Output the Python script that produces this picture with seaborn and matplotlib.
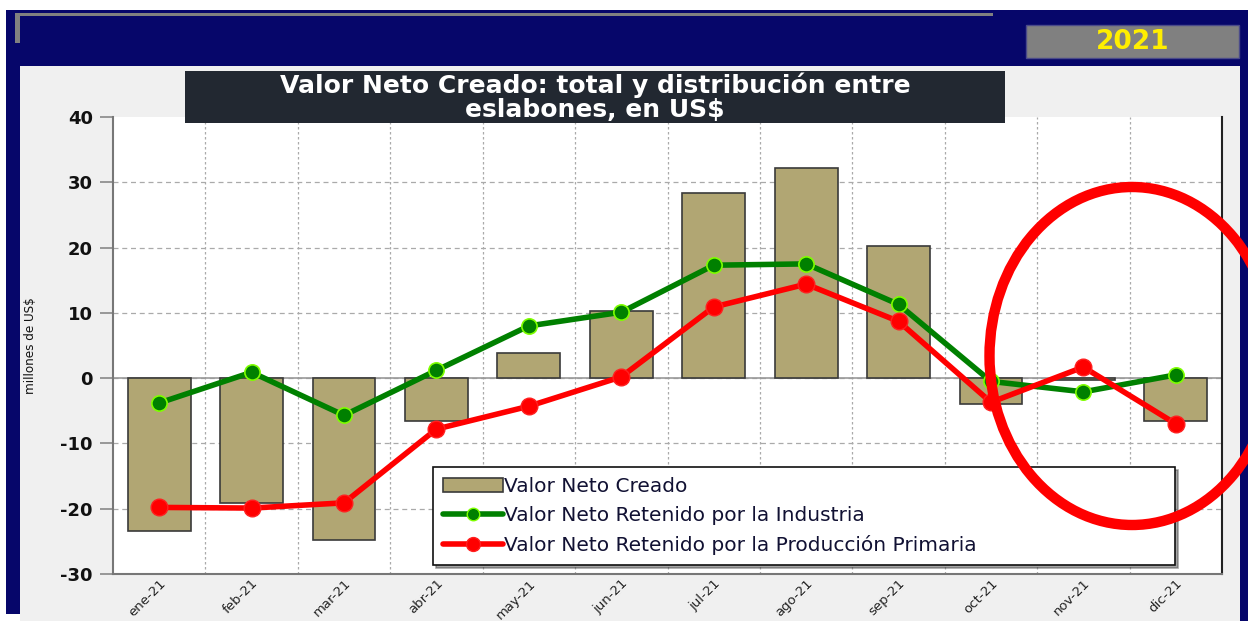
import numpy as np
import matplotlib
matplotlib.use("Agg")
import matplotlib.pyplot as plt
from matplotlib.patches import Rectangle, Ellipse
from matplotlib.lines import Line2D
import seaborn as sns

months = ["ene-21", "feb-21", "mar-21", "abr-21", "may-21", "jun-21",
          "jul-21", "ago-21", "sep-21", "oct-21", "nov-21", "dic-21"]
valor_creado = [-23.4, -19.1, -24.8, -6.6, 3.8, 10.3, 28.3, 32.2, 20.2, -4.0, -0.3, -6.6]
retenido_industria = [-3.8, 0.9, -5.7, 1.2, 8.0, 10.1, 17.3, 17.5, 11.3, -0.5, -2.1, 0.5]
retenido_primaria = [-19.8, -19.9, -19.1, -7.8, -4.3, 0.2, 10.9, 14.4, 8.7, -3.7, 1.7, -7.0]
yticks = [-30, -20, -10, 0, 10, 20, 30, 40]

sns.set_style("white")
plt.rcParams['font.family'] = ['DejaVu Sans']

W, H = 1248, 621
fig = plt.figure(figsize=(W / 100, H / 100), dpi=100)
fig.patch.set_facecolor("white")

def px(x0, y0, x1, y1):
    return (x0 / W, 1 - y1 / H, (x1 - x0) / W, (y1 - y0) / H)

def rect(x0, y0, x1, y1, **kw):
    fig.patches.append(Rectangle((x0 / W, 1 - y1 / H), (x1 - x0) / W, (y1 - y0) / H,
                                 transform=fig.transFigure, **kw))

# Background frame
navy = "#06066a"
rect(6, 10, W, 614, facecolor=navy, edgecolor="none", zorder=-3)
rect(1240, 10, W, H, facecolor=navy, edgecolor="none", zorder=-3)
rect(20, 66, 1240, H, facecolor="#f0f0f0", edgecolor="none", zorder=-2)
rect(15, 13, 993, 16, facecolor="#808080", edgecolor="none", zorder=-1)
rect(15, 13, 20, 43, facecolor="#808080", edgecolor="none", zorder=-1)
# 2021 box
rect(1026, 25, 1239, 58, facecolor="#808080", edgecolor="#4a4a8a", linewidth=1, zorder=-1)
fig.text((1026 + 1239) / 2 / W, 1 - 42 / H, "2021", color="#ffee00", fontsize=19,
         fontweight="bold", ha="center", va="center", zorder=2)

ax = fig.add_axes(px(113, 117, 1222, 574))
ax.set_facecolor("white")
x = np.arange(len(months))

sns.barplot(x=months, y=valor_creado, ax=ax, color="#b1a673", width=0.68,
            edgecolor="#3a3a3a", linewidth=1.2, saturation=1, zorder=3)

ax.plot(x, retenido_industria, color="#008000", lw=4, marker="o", markersize=11,
        markerfacecolor="#008000", markeredgecolor="#7fff00", markeredgewidth=1.2, zorder=5)
ax.plot(x, retenido_primaria, color="#ff0000", lw=4, marker="o", markersize=12,
        markerfacecolor="#ff0000", markeredgecolor="#ff2020", markeredgewidth=1.0, zorder=6)

ax.set_xlim(-0.5, 11.5)
ax.set_ylim(-30, 40)
ax.set_yticks(yticks)
ax.set_yticklabels([str(v) for v in yticks], fontsize=13, fontweight="bold", color="#111111")
ax.set_xticks(x)
ax.set_xticklabels(months, rotation=45, ha="right", rotation_mode="anchor", fontsize=9.5, color="#222222")
ax.tick_params(axis="x", length=0, pad=2)
ax.tick_params(axis="y", length=9.5, width=1.2, color="#888888", pad=5, direction="out", left=True)

for v in yticks[1:-1]:
    ax.axhline(v, color="#aaaaaa", lw=0.9, ls=(0, (4, 3)), zorder=1)
ax.axhline(0, color="#999999", lw=1.2, zorder=2)
for b in np.arange(0.5, 11.5, 1):
    ax.axvline(b, color="#aaaaaa", lw=0.9, ls=(0, (2, 2)), zorder=1)

for s in ["left", "bottom"]:
    ax.spines[s].set_color("#777777")
    ax.spines[s].set_linewidth(1.5)
ax.spines["top"].set_visible(False)
ax.spines["right"].set_color("#222222")
ax.spines["right"].set_linewidth(1.5)

ax.set_xlabel("")
fig.text(31 / W, 1 - 346 / H, "millones de US$", rotation=90, fontsize=9.5,
         fontstretch="condensed", ha="center", va="center", color="#111111")

# Title box
rect(185, 71, 1005, 123, facecolor="#222831", edgecolor="none", zorder=7)
fig.text(595 / W, 1 - 97 / H, "Valor Neto Creado: total y distribución entre\neslabones, en US$",
         color="white", fontsize=18, fontweight="bold", ha="center", va="center",
         linespacing=1.0, zorder=8)

handles = [
    Rectangle((0, 0), 1, 1, facecolor="#b1a673", edgecolor="#3a3a3a", linewidth=1.2),
    Line2D([], [], color="#008000", lw=4, marker="o", markersize=9,
           markerfacecolor="#008000", markeredgecolor="#7fff00"),
    Line2D([], [], color="#ff0000", lw=4, marker="o", markersize=10,
           markerfacecolor="#ff0000", markeredgecolor="#ff2020"),
]
labels = ["Valor Neto Creado", "Valor Neto Retenido por la Industria",
          "Valor Neto Retenido por la Producción Primaria"]
x0 = (433 - 113) / (1222 - 113)
wl = (1175 - 433) / (1222 - 113)
ytop = 1 - (467 - 117) / (574 - 117)
leg = ax.legend(handles, labels, loc="upper left", mode="expand",
                bbox_to_anchor=(x0, 0, wl, ytop),
                fontsize=14.5, frameon=True, fancybox=False, shadow=True,
                handlelength=3.0, handletextpad=0.05, labelspacing=0.5,
                borderpad=0.5, borderaxespad=0)
leg.get_frame().set_edgecolor("#111111")
leg.get_frame().set_linewidth(1.2)
leg.set_zorder(10)
for t in leg.get_texts():
    t.set_color("#111133")

# Red annotation ellipse
fig.patches.append(Ellipse((1132 / W, 1 - 356 / H), 285 / W, 338 / H,
                           transform=fig.transFigure, facecolor="none", edgecolor="#ff0000",
                           linewidth=7.5, zorder=20))

fig.savefig("out.png", dpi=100)
